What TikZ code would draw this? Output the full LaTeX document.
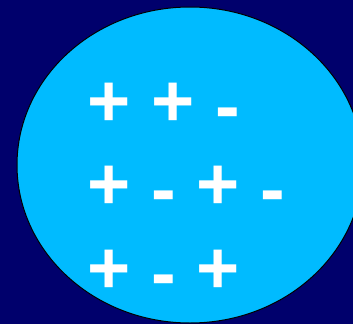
\documentclass[tikz,border=0pt]{standalone}
\usepackage{fontspec}
\usepackage{xcolor}
\newfontfamily\signfont{Liberation Sans}
\definecolor{NV}{RGB}{0,0,108}
\definecolor{SB}{RGB}{0,187,255}
% minus sign sits a little below the bar of the plus
\newcommand{\mns}{\raisebox{-5pt}{-}}

\begin{document}
\begin{tikzpicture}[
  x=1pt, y=-1pt,
  sign/.style={text=white, inner sep=0pt, anchor=base west,
               font=\signfont\bfseries\fontsize{74pt}{74pt}\selectfont}
]
\useasboundingbox (0,0) rectangle (353,324);
\fill[NV] (0,0) rectangle (353,324);
\clip (0,0) rectangle (353,324);
\draw[fill=SB, draw=black, line width=1pt] (190,165) ellipse [x radius=173, y radius=158];

\node[sign] (row1) at (87.4,126) {+ + \mns};
\node[sign] (row2) at (87.4,209.5) {+ \mns{} + \mns};
\node[sign] (row3) at (87.4,293) {+ \mns{} +};
\end{tikzpicture}
\end{document}
